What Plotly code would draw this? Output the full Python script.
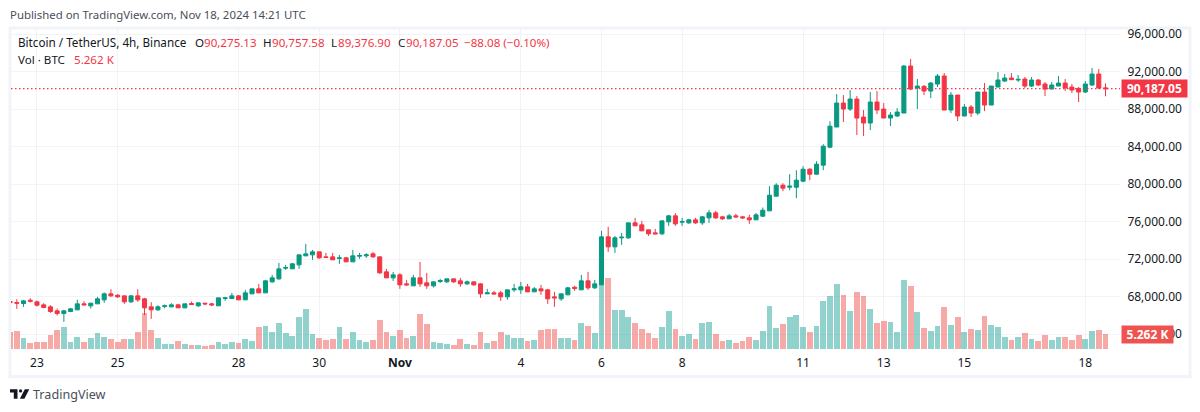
import plotly.graph_objects as go
import pandas as pd

# 4h candles, BTC/USDT on Binance
start_time = "2024-10-22 08:00"

opens = [
    67484, 67377, 67271, 67626, 67448, 67128, 66915, 66488, 66204, 66417,
    66595, 67235, 67022, 67235, 67662, 68302, 68160, 68088, 67448, 68088,
    67768, 66915, 66595, 66950, 66915, 67128, 66808, 67271, 67022, 67306,
    67235, 67022, 67804, 67804, 68088, 67662, 68302, 68835, 68408, 69582,
    69902, 71040, 70969, 71395, 72356, 72462, 72782, 72249, 72249, 72071,
    72142, 71716, 72320, 72356, 72569, 72249, 70649, 70009, 70329, 69369,
    69155, 70009, 69475, 69155, 69617, 69582, 69902, 69689, 69369, 69582,
    69369, 68302, 68408, 68408, 67982, 68728, 68728, 69049, 68515, 68835,
    68728, 67982, 67768, 68195, 69013, 68728, 69689, 68942, 69262, 74383,
    73316, 74276, 74276, 75876, 75663, 75129, 74809, 74703, 75983, 76623,
    75947, 75876, 76196, 75876, 76409, 76943, 76516, 76303, 76623, 76516,
    76409, 76196, 76586, 77155, 78720, 79893, 79680, 79680, 80320, 81600,
    81067, 82027, 83947, 86097, 88657, 88017, 89084, 87164, 86524, 88764,
    88017, 87057, 87271, 87591, 92605, 90258, 90435, 89938, 90684, 91538,
    87911, 89511, 87271, 88231, 87591, 89831, 88444, 90364, 91004, 91324,
    91111, 91218, 90471, 91111, 90684, 90151, 90471, 90791, 90364, 90222,
    89831, 90578, 91751, 90275.13,
]
highs = [
    67591, 67733, 67662, 67840, 67591, 67306, 67093, 66737, 66595, 66808,
    67662, 67519, 67342, 67982, 68444, 68800, 68266, 68088, 68160, 68800,
    67875, 67413, 67093, 67164, 67306, 67235, 67235, 67484, 67342, 67342,
    67342, 67875, 67982, 68408, 68195, 68728, 68835, 69369, 69795, 70329,
    71609, 71395, 71609, 72462, 73636, 72996, 72782, 72676, 72676, 72462,
    72249, 72996, 72676, 72640, 72782, 72284, 70969, 70649, 70506, 69795,
    70329, 71716, 70542, 69617, 69902, 69902, 69902, 70009, 69724, 69582,
    69440, 68835, 68622, 68622, 68728, 69369, 69582, 69369, 69049, 69262,
    68835, 68515, 68302, 69049, 69155, 70329, 70649, 69795, 75023, 75449,
    74489, 74809, 75876, 76409, 76089, 75129, 75236, 76089, 76729, 76907,
    76409, 76303, 76409, 76623, 77263, 77156, 76623, 76836, 76836, 76623,
    76729, 76943, 77511, 79787, 80107, 80107, 81067, 81494, 81920, 81707,
    82454, 84267, 86721, 89617, 89511, 90044, 89404, 87911, 89831, 89938,
    88657, 87697, 88124, 92711, 93351, 91218, 90578, 90898, 91751, 91858,
    89831, 89511, 88551, 88444, 89831, 90791, 90471, 91964, 91751, 91858,
    91644, 91431, 91431, 91218, 90898, 90898, 91538, 91218, 90684, 90364,
    91004, 92391, 92284, 90757.58,
]
lows = [
    66773, 66702, 66915, 67377, 66950, 66773, 66275, 65990, 65315, 66382,
    66595, 67093, 66737, 67235, 67342, 67982, 67875, 67235, 67342, 67448,
    66026, 65635, 66488, 66773, 66879, 66808, 66773, 67128, 66915, 67093,
    66986, 67022, 67555, 67768, 67662, 67662, 68302, 68408, 68408, 69475,
    69795, 70862, 70969, 70969, 72356, 71929, 72036, 72142, 71929, 71502,
    71716, 71716, 72036, 72142, 72142, 70435, 70009, 69689, 68835, 69155,
    69155, 69049, 68835, 68977, 69475, 69475, 69475, 69049, 69262, 69155,
    67875, 68302, 68195, 67555, 67662, 68515, 68302, 68515, 68515, 68195,
    67235, 66915, 67555, 68195, 68622, 68728, 68728, 68835, 69262, 72782,
    72676, 73529, 74169, 75556, 75023, 74489, 74703, 74596, 75556, 75556,
    75556, 75769, 75769, 75663, 75876, 76303, 76196, 76303, 76409, 76303,
    75769, 76196, 76515, 77155, 78720, 79253, 79360, 78506, 80213, 80427,
    81067, 81494, 83840, 86097, 86630, 87804, 85244, 85137, 85777, 87484,
    87057, 86204, 87164, 87591, 90044, 88017, 89511, 89191, 90364, 87911,
    87591, 86737, 87271, 87164, 87377, 87804, 88444, 90364, 90898, 91111,
    90898, 90258, 90364, 90471, 89404, 90151, 90471, 89938, 89724, 88764,
    89724, 90471, 90151, 89376.90,
]
closes = [
    67377, 67306, 67555, 67519, 67093, 66844, 66417, 66204, 66488, 66702,
    67235, 67128, 67306, 67768, 68302, 68088, 67982, 67448, 68088, 67662,
    66808, 66595, 66915, 67022, 67128, 66808, 67235, 67164, 67342, 67235,
    67128, 67875, 67875, 68088, 67662, 68408, 68835, 68408, 69689, 70009,
    70969, 71111, 71502, 72462, 72569, 72782, 72142, 72178, 71929, 72142,
    71716, 72356, 72391, 72462, 72249, 70542, 70009, 70329, 69262, 69262,
    70009, 69369, 69155, 69582, 69724, 69902, 69582, 69369, 69582, 69262,
    68302, 68408, 68302, 67982, 68728, 68835, 69049, 68515, 68835, 68622,
    67768, 67875, 68302, 68942, 68871, 69689, 68942, 69369, 74383, 73316,
    74276, 74347, 75876, 75556, 75023, 74703, 74703, 76089, 76623, 75769,
    76018, 76196, 75876, 76516, 76943, 76409, 76303, 76623, 76516, 76409,
    76196, 76729, 77226, 78827, 79893, 79573, 79787, 80427, 81600, 81067,
    82134, 84054, 86187, 88657, 88017, 89084, 87057, 86524, 88764, 87911,
    87057, 87377, 87697, 92605, 90151, 90471, 89938, 90791, 91538, 87911,
    89511, 87271, 88231, 87591, 89831, 88444, 90471, 91111, 91324, 91147,
    91182, 90471, 91111, 90578, 90151, 90578, 90791, 90258, 90044, 89831,
    90684, 91751, 90258, 90187.05,
]
# volume in thousands of BTC
volumes = [
    5.96, 6.31, 3.86, 2.10, 2.45, 2.45, 4.91, 6.66, 7.72, 2.45,
    4.21, 2.45, 3.86, 5.61, 4.21, 3.51, 2.45, 3.51, 3.51, 5.96,
    12.63, 6.66, 3.86, 1.75, 1.75, 2.81, 1.75, 1.40, 1.40, 1.05,
    1.40, 2.45, 1.75, 2.45, 2.10, 3.51, 2.81, 7.72, 8.07, 5.96,
    9.12, 5.61, 4.56, 11.22, 14.03, 5.26, 3.86, 3.16, 3.51, 7.72,
    3.51, 5.96, 3.16, 2.45, 3.16, 10.17, 5.96, 4.56, 6.66, 3.86,
    4.56, 12.27, 8.77, 2.45, 2.10, 1.75, 1.40, 3.51, 1.75, 1.40,
    5.96, 2.10, 2.81, 5.96, 4.91, 3.86, 3.86, 2.81, 3.16, 6.66,
    7.01, 7.01, 3.86, 3.86, 3.16, 9.12, 8.07, 5.61, 28.06, 24.90,
    13.68, 13.68, 11.22, 9.12, 7.01, 5.61, 3.86, 7.72, 13.33, 7.01,
    4.56, 5.26, 3.51, 9.12, 9.47, 5.26, 2.81, 3.16, 2.10, 2.81,
    4.21, 3.16, 6.31, 15.08, 7.36, 8.77, 11.22, 11.92, 7.72, 5.96,
    8.07, 16.83, 18.59, 22.80, 18.94, 13.33, 19.99, 18.59, 14.03, 9.12,
    9.82, 9.47, 5.96, 24.20, 22.09, 12.98, 7.36, 6.31, 8.07, 14.73,
    8.42, 11.22, 5.96, 7.01, 6.66, 11.57, 8.42, 7.72, 4.21, 3.16,
    4.21, 5.61, 3.51, 2.81, 4.91, 3.16, 4.21, 4.21, 3.16, 4.91,
    3.51, 6.31, 6.66, 5.262,
]

price_ticks = [96000, 92000, 88000, 84000, 80000, 76000, 72000, 68000, 64000]
date_ticks = ["2024-10-23", "2024-10-25", "2024-10-28", "2024-10-30", "2024-11-01", "2024-11-04",
              "2024-11-06", "2024-11-08", "2024-11-11", "2024-11-13", "2024-11-15", "2024-11-18"]
date_labels = ["23", "25", "28", "30", "<b>Nov</b>", "4", "6", "8", "11", "13", "15", "18"]

UP = "#089981"
DOWN = "#F23645"
VOL_UP = "rgba(38,166,154,0.5)"
VOL_DOWN = "rgba(239,83,80,0.5)"
GRID = "#F2F3F7"
FRAME = "#F0F3FA"
TEXT = "#131722"
FONT = "Noto Sans"

# plot area in page pixels
LEFT, RIGHT, TOP, BOTTOM = 11, 1120, 29, 350


def px_x(x):
    return (x - LEFT) / (RIGHT - LEFT)


def px_y(y):
    return 1 - (y - TOP) / (BOTTOM - TOP)


times = pd.date_range(start_time, periods=len(closes), freq="4h")
vol_colors = [VOL_UP if c >= o else VOL_DOWN for o, c in zip(opens, closes)]

fig = go.Figure()

# Volym ligger under ljusen
fig.add_trace(go.Bar(x=times, y=volumes, marker=dict(color=vol_colors, line=dict(width=0)),
                     width=4 * 3600 * 1000 * 0.86, yaxis="y", hoverinfo="skip"))
fig.add_trace(go.Candlestick(
    x=times, open=opens, high=highs, low=lows, close=closes, yaxis="y2",
    increasing=dict(line=dict(color=UP, width=1), fillcolor=UP),
    decreasing=dict(line=dict(color=DOWN, width=1), fillcolor=DOWN),
    whiskerwidth=0,
))


def note(x, y, text, color=TEXT, size=11.6, **kw):
    # annotation pads 2 px around its text
    fig.add_annotation(xref="paper", yref="paper", x=px_x(x - 2), y=px_y(y), text=text, showarrow=False,
                       xanchor="left", yanchor="middle", align="left",
                       font=dict(family=FONT, size=size, color=color), **kw)


note(10, 15, "Published on TradingView.com, Nov 18, 2024 14:21 UTC", color="#4A4E5A", size=11.4)
note(18, 42, "Bitcoin / TetherUS, 4h, Binance", size=11.7)
note(195, 42, "O")
note(204, 42, "90,275.13", color=DOWN)
note(263, 42, "H")
note(272, 42, "90,757.58", color=DOWN)
note(331, 42, "L")
note(338, 42, "89,376.90", color=DOWN)
note(398, 42, "C")
note(406, 42, "90,187.05", color=DOWN)
note(464, 42, "\u221288.08 (\u22120.10%)", color=DOWN)
note(18, 59, "Vol \u00b7 BTC")
note(74, 59, "5.262 K", color=DOWN)
note(33, 394, "TradingView", color="#4A4E5A", size=12.6)

# Prislappar till höger
last_close = closes[-1]
fig.add_annotation(xref="paper", yref="y2", x=px_x(1121), y=last_close, text=f"<b>{last_close:,.2f}</b>",
                   showarrow=False, xanchor="left", yanchor="middle", width=63, height=15, bgcolor=DOWN,
                   font=dict(family=FONT, size=12, color="white"))
fig.add_annotation(xref="paper", yref="y", x=px_x(1121), y=volumes[-1], text=f"<b>{volumes[-1]:.3f} K</b>",
                   showarrow=False, xanchor="left", yanchor="middle", width=49, height=15, bgcolor="#EF5350",
                   font=dict(family=FONT, size=12, color="white"))

# Prickad linje vid senaste stängning
fig.add_shape(type="line", xref="paper", yref="y2", x0=0, x1=1, y0=last_close, y1=last_close,
              line=dict(color=DOWN, width=1.3, dash="1.5px,2.5px"))
# Ram runt diagrammet
fig.add_shape(type="rect", xref="paper", yref="paper", x0=px_x(10), x1=px_x(1190), y0=px_y(28), y1=px_y(376.5),
              line=dict(color=FRAME, width=3), layer="below")

# TradingView-loggan
fig.add_shape(type="path", xref="paper", yref="paper", fillcolor=TEXT, line=dict(width=0),
              path=(f"M {px_x(10)} {px_y(389.3)} L {px_x(17.5)} {px_y(389.3)} L {px_x(17.5)} {px_y(398.7)} "
                    f"L {px_x(13.8)} {px_y(398.7)} L {px_x(13.8)} {px_y(392.6)} L {px_x(10)} {px_y(392.6)} Z"))
fig.add_shape(type="circle", xref="paper", yref="paper", fillcolor=TEXT, line=dict(width=0),
              x0=px_x(18.9), x1=px_x(22.2), y0=px_y(389.3), y1=px_y(392.6))
fig.add_shape(type="path", xref="paper", yref="paper", fillcolor=TEXT, line=dict(width=0),
              path=(f"M {px_x(24.8)} {px_y(389.3)} L {px_x(29.3)} {px_y(389.3)} L {px_x(24.4)} {px_y(398.7)} "
                    f"L {px_x(19.9)} {px_y(398.7)} Z"))

fig.update_layout(
    width=1200, height=412, autosize=False,
    margin=dict(l=LEFT, r=1200 - RIGHT, t=TOP, b=412 - BOTTOM, pad=0),
    paper_bgcolor="white", plot_bgcolor="white",
    showlegend=False, boxgap=0.14, bargap=0,
    xaxis=dict(type="date", range=["2024-10-22 08:32", "2024-11-18 20:38"], rangeslider=dict(visible=False),
               tickmode="array", tickvals=date_ticks, ticktext=date_labels, tickangle=0,
               showgrid=True, gridcolor=GRID, gridwidth=1, zeroline=False, showline=False,
               ticks="outside", ticklen=2, tickcolor="white",
               tickfont=dict(family=FONT, size=12, color=TEXT)),
    yaxis=dict(range=[-0.35, 112.26], visible=False, showgrid=False, zeroline=False),
    yaxis2=dict(range=[62314, 96555], overlaying="y", side="right", tickmode="array", tickvals=price_ticks,
                tickformat=",.2f", showgrid=True, gridcolor=GRID, gridwidth=1, zeroline=False, showline=False,
                ticks="outside", ticklen=4, tickcolor="white",
                tickfont=dict(family=FONT, size=12, color=TEXT)),
)

fig.write_html("out.html", config={"displayModeBar": False},
               post_script="document.body.style.margin='0';document.body.style.overflow='hidden';")
print("Sparade out.html")
